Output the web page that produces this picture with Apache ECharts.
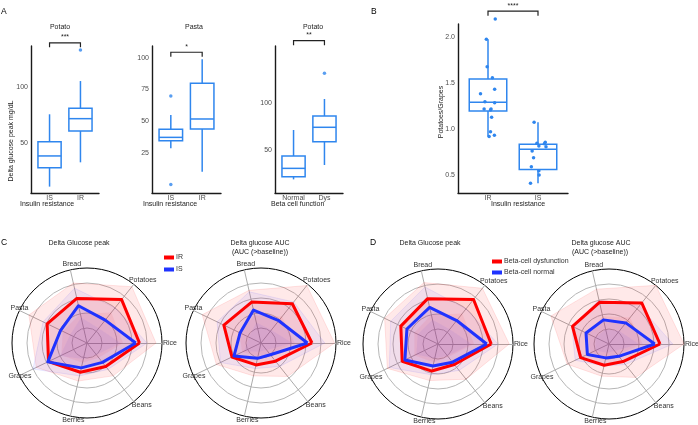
<!DOCTYPE html>
<html><head><meta charset="utf-8">
<script src="https://cdn.jsdelivr.net/npm/echarts@6/dist/echarts.min.js"></script>
<style>html,body{margin:0;padding:0;background:#fff}#c{width:698px;height:425px}</style>
</head><body><div id="c"></div>
<script>
// ---------- DATA ----------
// Panel A, plot 1: Potato, insulin resistance  [min, Q1, median, Q3, max]
const a1Cats = ['IS', 'IR'];
const a1Box = [[11.3, 28.2, 38.7, 51.4, 75.9], [33.0, 61.0, 72.0, 81.2, 105.6]];
const a1Out = [[1, 133.3]];
const a1Ticks = [50, 100];
// Panel A, plot 2: Pasta, insulin resistance
const a2Cats = ['IS', 'IR'];
const a2Box = [[28.9, 34.9, 37.5, 43.8, 55.0], [10.6, 44.0, 51.9, 79.9, 98.7]];
const a2Out = [[0, 69.9], [0, 0.5]];
const a2Ticks = [25, 50, 75, 100];
// Panel A, plot 3: Potato, beta cell function
const a3Cats = ['Normal', 'Dys'];
const a3Box = [[18.6, 21.4, 30.4, 43.6, 71.5], [34.0, 58.9, 74.4, 86.5, 104.7]];
const a3Out = [[1, 132.2]];
const a3Ticks = [50, 100];
// Panel B: Potatoes/Grapes ratio
const bCats = ['IR', 'IS'];
const bBox = [[0.917, 1.196, 1.290, 1.543, 1.975], [0.410, 0.560, 0.780, 0.834, 1.073]];
const bIRvals = [2.196, 1.975, 1.677, 1.558, 1.384, 1.431, 1.297, 1.286, 1.217, 1.217, 1.207, 1.127, 0.971, 0.917, 0.931];
const bIRjit  = [0.145, -0.033, -0.017, 0.088, -0.15, 0.133, -0.061, 0.133, -0.078, 0.061, 0.05, 0.072, 0.05, 0.022, 0.128];
const bISvals = [1.073, 0.845, 0.855, 0.808, 0.815, 0.761, 0.688, 0.590, 0.547, 0.500, 0.410, 0.840];
const bISjit  = [-0.078, -0.022, 0.145, 0.16, 0.017, -0.117, -0.089, -0.133, 0.017, 0.022, -0.15, 0.128];
const bTicks = [0.5, 1.0, 1.5, 2.0];
// significance brackets: y value and label per plot
const sigY = [139.7, 104.2, 167.2, 2.28];
const sigLabels = ['***', '*', '**', '****'];

// Panels C & D radars (scaled 0-100)
const foods = ['Rice', 'Potatoes', 'Bread', 'Pasta', 'Grapes', 'Berries', 'Beans'];
// C: peak
const cPeakIR    = [70, 74, 61, 59, 57, 40, 40];
const cPeakIS    = [65, 39, 51, 39, 58, 34, 33];
const cPeakIRup  = [92, 96, 82, 86, 75, 52, 56];
const cPeakISup  = [80, 60, 75, 65, 80, 45, 45];
const cPeakIRlo  = [48, 52, 40, 36, 38, 27, 25];
const cPeakISlo  = [45, 25, 35, 25, 40, 22, 20];
// C: AUC
const cAucIR     = [68, 67, 56, 55, 43, 30, 31];
const cAucIS     = [62, 38, 45, 31, 40, 21, 20];
const cAucIRup   = [98, 98, 72, 87, 66, 45, 57];
const cAucISup   = [85, 70, 70, 65, 60, 35, 40];
const cAucIRlo   = [45, 45, 38, 32, 28, 18, 18];
const cAucISlo   = [42, 22, 28, 18, 25, 12, 12];
// D: peak
const dPeakDys   = [71, 76, 62, 55, 53, 37, 35];
const dPeakNorm  = [65, 40, 50, 46, 49, 30, 31];
const dPeakDysUp = [95, 95, 84, 79, 75, 50, 60];
const dPeakNormUp= [80, 60, 78, 70, 72, 42, 45];
const dPeakDysLo = [48, 52, 40, 35, 35, 25, 22];
const dPeakNormLo= [45, 25, 33, 30, 32, 20, 20];
// D: AUC
const dAucDys    = [68, 70, 57, 54, 42, 29, 30];
const dAucNorm   = [61, 36, 33, 34, 32, 19, 21];
const dAucDysUp  = [100, 100, 75, 86, 62, 44, 57];
const dAucNormUp = [85, 65, 60, 55, 50, 30, 35];
const dAucDysLo  = [45, 45, 38, 32, 27, 18, 18];
const dAucNormLo = [40, 22, 20, 20, 20, 12, 12];

// ---------- STYLE / LAYOUT ----------
const FONT = '"Liberation Sans", Arial, sans-serif';
const BOXC = '#2f86ee';
const RED = '#ff0000', BLUE = '#1f33ff';
const grids = [
  {left: 31, top: 46, width: 68, height: 147},
  {left: 152, top: 46, width: 69, height: 147},
  {left: 275, top: 46, width: 68, height: 147},
  {left: 458, top: 24, width: 110, height: 169}
];
const yRanges = [[5.6, 136.9], [-6.1, 109.1], [4.0, 161.5], [0.304, 2.141]];
const plotCats = [a1Cats, a2Cats, a3Cats, bCats];
const plotBoxes = [a1Box, a2Box, a3Box, bBox];
const plotOuts = [a1Out, a2Out, a3Out, []];
const plotTicks = [a1Ticks, a2Ticks, a3Ticks, bTicks];

const chart = echarts.init(document.getElementById('c'), null, {renderer: 'canvas'});

const xAxes = grids.map((g, i) => ({
  type: 'value', gridIndex: i, min: -0.6, max: 1.6,
  axisLine: {onZero: false, lineStyle: {color: '#1a1a1a', width: 1.4}},
  axisTick: {show: false}, splitLine: {show: false},
  axisLabel: {customValues: [0, 1], formatter: v => plotCats[i][Math.round(v)], fontSize: 7, color: '#4d4d4d', margin: 2, fontFamily: FONT}
}));
const yAxes = grids.map((g, i) => ({
  type: 'value', gridIndex: i, min: yRanges[i][0], max: yRanges[i][1],
  axisLine: {show: true, onZero: false, lineStyle: {color: '#1a1a1a', width: 1.4}},
  axisTick: {show: false}, splitLine: {show: false},
  axisLabel: {customValues: plotTicks[i], formatter: v => (i === 3 ? v.toFixed(1) : String(v)), fontSize: 7, color: '#4d4d4d', margin: 3, fontFamily: FONT}
}));

function renderBox(params, api) {
  const x = api.value(0);
  const mn = api.coord([x, api.value(1)]), q1 = api.coord([x, api.value(2)]),
        md = api.coord([x, api.value(3)]), q3 = api.coord([x, api.value(4)]),
        mx = api.coord([x, api.value(5)]);
  const half = api.size([0.75, 0])[0] / 2;
  const st = {stroke: BOXC, lineWidth: 1.5, fill: null};
  return {type: 'group', children: [
    {type: 'line', shape: {x1: mn[0], y1: mn[1], x2: q1[0], y2: q1[1]}, style: st},
    {type: 'line', shape: {x1: q3[0], y1: q3[1], x2: mx[0], y2: mx[1]}, style: st},
    {type: 'rect', shape: {x: q1[0] - half, y: q3[1], width: half * 2, height: q1[1] - q3[1]}, style: {stroke: BOXC, lineWidth: 1.5, fill: '#fff'}},
    {type: 'line', shape: {x1: md[0] - half, y1: md[1], x2: md[0] + half, y2: md[1]}, style: st}
  ]};
}

const series = [];
plotBoxes.forEach((bx, i) => {
  series.push({type: 'custom', xAxisIndex: i, yAxisIndex: i, renderItem: renderBox, silent: true, clip: false,
    encode: {x: 0, y: [1, 2, 3, 4, 5]},
    data: bx.map((b, k) => [k].concat(b))});
  if (plotOuts[i].length) series.push({type: 'scatter', xAxisIndex: i, yAxisIndex: i, symbolSize: 3.5, silent: true, clip: false,
    itemStyle: {color: BOXC}, data: plotOuts[i]});
});
series.push({type: 'scatter', xAxisIndex: 3, yAxisIndex: 3, symbolSize: 3.5, silent: true, clip: false, itemStyle: {color: BOXC, opacity: 1},
  data: bIRvals.map((v, k) => [0 + bIRjit[k], v]).concat(bISvals.map((v, k) => [1 + bISjit[k], v]))});

// radars
const radarCenters = [[87, 343], [261, 343], [438, 344], [609, 344]];
const R = 75;
const radars = radarCenters.map(c => ({
  center: c, radius: R, startAngle: 0, shape: 'circle', splitNumber: 5,
  indicator: foods.map(f => ({name: f, max: 100, min: 0})),
  axisName: {show: false},
  splitArea: {show: false},
  splitLine: {lineStyle: {color: ['#b5b5b5', '#b5b5b5', '#b5b5b5', '#b5b5b5', '#b5b5b5', '#000'], width: 1}},
  axisLine: {lineStyle: {color: '#ababab', width: 1}},
  axisTick: {show: false}, axisLabel: {show: false}
}));
function radarSeries(idx, names, meanA, meanB, upA, upB, loA, loB) {
  return {type: 'radar', radarIndex: idx, symbol: 'none', silent: true, data: [
    {name: names[0] + ' upper', value: upA, lineStyle: {width: 0.6, color: 'rgba(255,0,0,0.18)'}, areaStyle: {color: 'rgba(255,0,0,0.12)'}},
    {name: names[1] + ' upper', value: upB, lineStyle: {width: 0.6, color: 'rgba(40,40,255,0.15)'}, areaStyle: {color: 'rgba(60,60,255,0.10)'}},
    {name: names[0] + ' lower', value: loA, lineStyle: {width: 0}, areaStyle: {color: 'rgba(255,0,0,0.09)'}},
    {name: names[1] + ' lower', value: loB, lineStyle: {width: 0}, areaStyle: {color: 'rgba(60,60,255,0.10)'}},
    {name: names[0], value: meanA, lineStyle: {width: 3, color: RED}, areaStyle: {color: 'rgba(255,0,0,0.15)'}, itemStyle: {color: RED}},
    {name: names[1], value: meanB, lineStyle: {width: 3, color: BLUE}, areaStyle: {color: 'rgba(60,60,255,0.13)'}, itemStyle: {color: BLUE}}
  ]};
}
const irNames = ['IR', 'IS'], betaNames = ['Beta-cell dysfunction', 'Beta-cell normal'];
series.push(radarSeries(0, irNames, cPeakIR, cPeakIS, cPeakIRup, cPeakISup, cPeakIRlo, cPeakISlo));
series.push(radarSeries(1, irNames, cAucIR, cAucIS, cAucIRup, cAucISup, cAucIRlo, cAucISlo));
series.push(radarSeries(2, betaNames, dPeakDys, dPeakNorm, dPeakDysUp, dPeakNormUp, dPeakDysLo, dPeakNormLo));
series.push(radarSeries(3, betaNames, dAucDys, dAucNorm, dAucDysUp, dAucNormUp, dAucDysLo, dAucNormLo));

const legendText = {fontSize: 7, color: '#333', fontFamily: FONT, padding: [0, 0, 0, -3]};
chart.setOption({
  animation: false,
  textStyle: {fontFamily: FONT},
  grid: grids,
  xAxis: xAxes, yAxis: yAxes,
  radar: radars,
  legend: [
    {left: 164, top: 254, orient: 'vertical', icon: 'rect', itemWidth: 10, itemHeight: 4, itemGap: 5, selectedMode: false, padding: 0,
     data: [{name: 'IR', itemStyle: {color: RED}}, {name: 'IS', itemStyle: {color: BLUE}}], textStyle: legendText},
    {left: 492, top: 258, orient: 'vertical', icon: 'rect', itemWidth: 10, itemHeight: 4, itemGap: 4, selectedMode: false, padding: 0,
     data: [{name: 'Beta-cell dysfunction', itemStyle: {color: RED}}, {name: 'Beta-cell normal', itemStyle: {color: BLUE}}], textStyle: legendText}
  ],
  series: series
});

// ---------- ANNOTATIONS ----------
function txt(text, x, y, opt) {
  opt = opt || {};
  return {type: 'text', x: x, y: y, rotation: opt.rot || 0, silent: true, z: 100,
    style: {text: text, font: (opt.weight || 'normal') + ' ' + (opt.size || 7) + 'px ' + FONT,
      fill: opt.color || '#222', textAlign: opt.align || 'center', textVerticalAlign: opt.valign || 'middle'}};
}
const gfx = [];
// panel letters
gfx.push(txt('A', 1, 12, {size: 8.5, align: 'left', color: '#000'}));
gfx.push(txt('B', 371, 12, {size: 8.5, align: 'left', color: '#000'}));
gfx.push(txt('C', 1, 243, {size: 8.5, align: 'left', color: '#000'}));
gfx.push(txt('D', 370, 243, {size: 8.5, align: 'left', color: '#000'}));
// plot titles
gfx.push(txt('Potato', 60, 27));
gfx.push(txt('Pasta', 194, 27));
gfx.push(txt('Potato', 313, 27));
// axis names
gfx.push(txt('Insulin resistance', 20, 204, {align: 'left'}));
gfx.push(txt('Insulin resistance', 143, 204, {align: 'left'}));
gfx.push(txt('Beta cell function', 271, 204, {align: 'left'}));
gfx.push(txt('Insulin resistance', 491, 204, {align: 'left'}));
gfx.push(txt('Delta glucose peak mg/dL', 11, 141, {rot: Math.PI / 2}));
gfx.push(txt('Potatoes/Grapes', 441, 112, {rot: Math.PI / 2}));
// radar titles
gfx.push(txt('Delta Glucose peak', 79, 243));
gfx.push(txt('Delta glucose AUC', 260, 243));
gfx.push(txt('(AUC (>baseline))', 260, 252));
gfx.push(txt('Delta Glucose peak', 430, 243));
gfx.push(txt('Delta glucose AUC', 601, 243));
gfx.push(txt('(AUC (>baseline))', 600, 252));
// radar indicator labels
const lblOff = [[1, 0], [9, -4], [1.5, -5.5], [0, -2], [0.5, 1], [3, 4], [8, 3.5]];
radarCenters.forEach(c => {
  foods.forEach((f, k) => {
    const a = k * 2 * Math.PI / foods.length;
    const x = c[0] + R * Math.cos(a) + lblOff[k][0];
    const y = c[1] - R * Math.sin(a) + lblOff[k][1];
    gfx.push(txt(f, x, y, {color: '#333', align: k === 0 ? 'left' : 'center'}));
  });
});
// significance brackets
sigY.forEach((yv, i) => {
  const p1 = chart.convertToPixel({xAxisIndex: i, yAxisIndex: i}, [0, yv]);
  const p2 = chart.convertToPixel({xAxisIndex: i, yAxisIndex: i}, [1, yv]);
  gfx.push({type: 'polyline', silent: true, z: 100,
    shape: {points: [[p1[0], p1[1] + 4.5], [p1[0], p1[1]], [p2[0], p2[1]], [p2[0], p2[1] + 4.5]]},
    style: {stroke: '#222', lineWidth: 1.2, fill: null}});
  gfx.push(txt(sigLabels[i], (p1[0] + p2[0]) / 2, p1[1] - 2, {valign: 'bottom', size: 7}));
});
chart.setOption({graphic: {elements: gfx}});
</script>
</body></html>
